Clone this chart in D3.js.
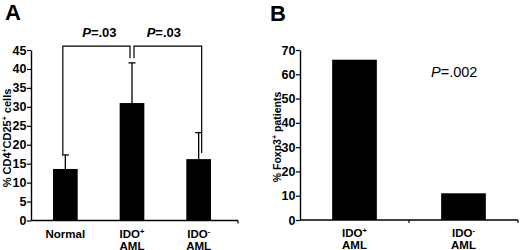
<!DOCTYPE html>
<html>
<head>
<meta charset="utf-8">
<script src="https://cdn.jsdelivr.net/npm/d3@7"></script>
<style>
  html, body { margin: 0; padding: 0; background: #fff; }
  svg { display: block; font-family: "Liberation Sans", Arial, sans-serif; }
</style>
</head>
<body>
<div id="chart"></div>
<script>
// Panel A data
var catsA = ["Normal", "IDO+", "IDO-"];
var meansA = [13.6, 31.0, 16.2];
var sdA = [3.7, 10.6, 7.0];
var ticksA = [0, 5, 10, 15, 20, 25, 30, 35, 40, 45];
// bracket levels (top, left end, middle end, right end) and p values
var bracketTop = 46;
var bracketEnds = [17.5, 42.8, 17.8];
var pValuesA = ["=.03", "=.03"];

// Panel B data
var catsB = ["IDO+", "IDO-"];
var valuesB = [66.0, 11.0];
var ticksB = [0, 10, 20, 30, 40, 50, 60, 70];
var pValueB = "=.002";

var width = 520, height = 250;

var svg = d3.select("#chart").append("svg")
    .attr("width", width)
    .attr("height", height);

// category labels with superscript sign and "AML" on a second line
function catLabel(g, name, x, y) {
    var t = g.append("text")
        .attr("x", x)
        .attr("y", y)
        .attr("text-anchor", "middle")
        .attr("font-size", 11.5)
        .attr("font-weight", "bold");
    if (name == "Normal") {
        t.text("Normal");
        return;
    }
    t.append("tspan").text("IDO");
    t.append("tspan").attr("font-size", 7.5).attr("dy", -4).text(name.slice(3));
    g.append("text")
        .attr("x", x)
        .attr("y", y + 11.5)
        .attr("text-anchor", "middle")
        .attr("font-size", 11.5)
        .attr("font-weight", "bold")
        .text("AML");
}

function styleYAxis(yAxis) {
    yAxis.select(".domain").attr("stroke-width", 1.4);
    yAxis.selectAll(".tick line").attr("stroke-width", 1.2);
    yAxis.selectAll("text")
        .attr("font-size", 12.5).attr("font-weight", "bold")
        .attr("font-family", "Liberation Sans, Arial, sans-serif")
        .attr("x", -4.5);
}

// ---------------- Panel A ----------------
(function () {
    var yA = d3.scaleLinear().domain([0, 45]).range([220.5, 50]);
    var xA = d3.scaleBand().domain(catsA).range([32, 232])
        .paddingInner(0.63).paddingOuter(0.315);
    var axisX0 = 31, axisX1 = 238;

    var g = svg.append("g");

    // bars
    g.selectAll("rect.bar").data(meansA).enter().append("rect")
        .attr("class", "bar")
        .attr("x", (d, i) => xA(catsA[i]))
        .attr("y", d => yA(d))
        .attr("width", xA.bandwidth())
        .attr("height", d => yA(0) - yA(d))
        .attr("fill", "#000");

    // error bars (upper half only)
    var cx = (i) => xA(catsA[i]) + xA.bandwidth() / 2;
    g.selectAll("line.err").data(meansA).enter().append("line")
        .attr("x1", (d, i) => cx(i)).attr("x2", (d, i) => cx(i))
        .attr("y1", d => yA(d)).attr("y2", (d, i) => yA(d + sdA[i]))
        .attr("stroke", "#000").attr("stroke-width", 1.3);
    g.selectAll("line.cap").data(meansA).enter().append("line")
        .attr("x1", (d, i) => cx(i) - 3.5).attr("x2", (d, i) => cx(i) + 3.5)
        .attr("y1", (d, i) => yA(d + sdA[i])).attr("y2", (d, i) => yA(d + sdA[i]))
        .attr("stroke", "#000").attr("stroke-width", 1.3);

    // y axis
    var yAxis = g.append("g")
        .attr("transform", `translate(${axisX0},0)`)
        .call(d3.axisLeft(yA).tickValues(ticksA).tickSize(4).tickSizeOuter(0));
    styleYAxis(yAxis);

    // x axis line with end tick
    g.append("line")
        .attr("x1", axisX0).attr("x2", axisX1)
        .attr("y1", yA(0)).attr("y2", yA(0))
        .attr("stroke", "#000").attr("stroke-width", 1.4);
    g.append("line")
        .attr("x1", axisX1).attr("x2", axisX1)
        .attr("y1", yA(0)).attr("y2", yA(0) + 3)
        .attr("stroke", "#000").attr("stroke-width", 1.2);

    // category labels
    catsA.forEach((c, i) => catLabel(g, c, cx(i), 238));

    // brackets
    var lx = cx(0) - 2.5, m1 = cx(1) - 2, m2 = cx(1) + 2, rx = cx(2) + 3;
    var yt = yA(bracketTop);
    g.append("path")
        .attr("d", `M${lx},${yA(bracketEnds[0])}V${yt}H${m1}V${yA(bracketEnds[1])}`)
        .attr("fill", "none").attr("stroke", "#000").attr("stroke-width", 1.2);
    g.append("path")
        .attr("d", `M${rx},${yA(bracketEnds[2])}V${yt}H${m2}V${yA(bracketEnds[1])}`)
        .attr("fill", "none").attr("stroke", "#000").attr("stroke-width", 1.2);

    [[lx, m1], [m2, rx]].forEach((p, i) => {
        var t = g.append("text")
            .attr("x", (p[0] + p[1]) / 2 + (i == 0 ? 3 : -4))
            .attr("y", 36.5)
            .attr("text-anchor", "middle")
            .attr("font-size", 13)
            .attr("font-weight", "bold");
        t.append("tspan").attr("font-style", "italic").text("P");
        t.append("tspan").text(pValuesA[i]);
    });

    // y label
    var yl = g.append("text")
        .attr("transform", "translate(11,138) rotate(-90)")
        .attr("text-anchor", "middle")
        .attr("font-size", 11)
        .attr("font-weight", "bold");
    yl.append("tspan").text("% CD4");
    yl.append("tspan").attr("font-size", 7).attr("dy", -4).text("+");
    yl.append("tspan").attr("dy", 4).text("CD25");
    yl.append("tspan").attr("font-size", 7).attr("dy", -4).text("+");
    yl.append("tspan").attr("dy", 4).text(" cells");

    // panel letter
    g.append("text")
        .attr("x", 5).attr("y", 20)
        .attr("font-size", 22).attr("font-weight", "bold")
        .text("A");
})();

// ---------------- Panel B ----------------
(function () {
    var yB = d3.scaleLinear().domain([0, 70]).range([220, 50]);
    var xB = d3.scaleBand().domain(catsB).range([300, 518])
        .paddingInner(0.59).paddingOuter(0.295);
    var axisX0 = 300, axisX1 = 518;

    var g = svg.append("g");

    g.selectAll("rect.bar").data(valuesB).enter().append("rect")
        .attr("x", (d, i) => xB(catsB[i]))
        .attr("y", d => yB(d))
        .attr("width", xB.bandwidth())
        .attr("height", d => yB(0) - yB(d))
        .attr("fill", "#000");

    var yAxis = g.append("g")
        .attr("transform", `translate(${axisX0},0)`)
        .call(d3.axisLeft(yB).tickValues(ticksB).tickSize(4).tickSizeOuter(0));
    styleYAxis(yAxis);

    g.append("line")
        .attr("x1", axisX0).attr("x2", axisX1)
        .attr("y1", yB(0)).attr("y2", yB(0))
        .attr("stroke", "#000").attr("stroke-width", 1.4);
    // ticks at category boundaries
    g.selectAll("line.bt").data(catsB).enter().append("line")
        .attr("x1", (d, i) => axisX0 + xB.step() * (i + 1))
        .attr("x2", (d, i) => axisX0 + xB.step() * (i + 1))
        .attr("y1", yB(0)).attr("y2", yB(0) + 3)
        .attr("stroke", "#000").attr("stroke-width", 1.2);

    catsB.forEach((c, i) => catLabel(g, c, xB(c) + xB.bandwidth() / 2, 237));

    var t = g.append("text")
        .attr("x", 431).attr("y", 77)
        .attr("font-size", 14.5);
    t.append("tspan").attr("font-style", "italic").text("P");
    t.append("tspan").text(pValueB);

    var yl = g.append("text")
        .attr("transform", "translate(281,137) rotate(-90)")
        .attr("text-anchor", "middle")
        .attr("font-size", 10.5)
        .attr("font-weight", "bold");
    yl.append("tspan").text("% Foxp3");
    yl.append("tspan").attr("font-size", 7).attr("dy", -4).text("+");
    yl.append("tspan").attr("dy", 4).text(" patients");

    g.append("text")
        .attr("x", 270).attr("y", 20.5)
        .attr("font-size", 22).attr("font-weight", "bold")
        .text("B");
})();
</script>
</body>
</html>
